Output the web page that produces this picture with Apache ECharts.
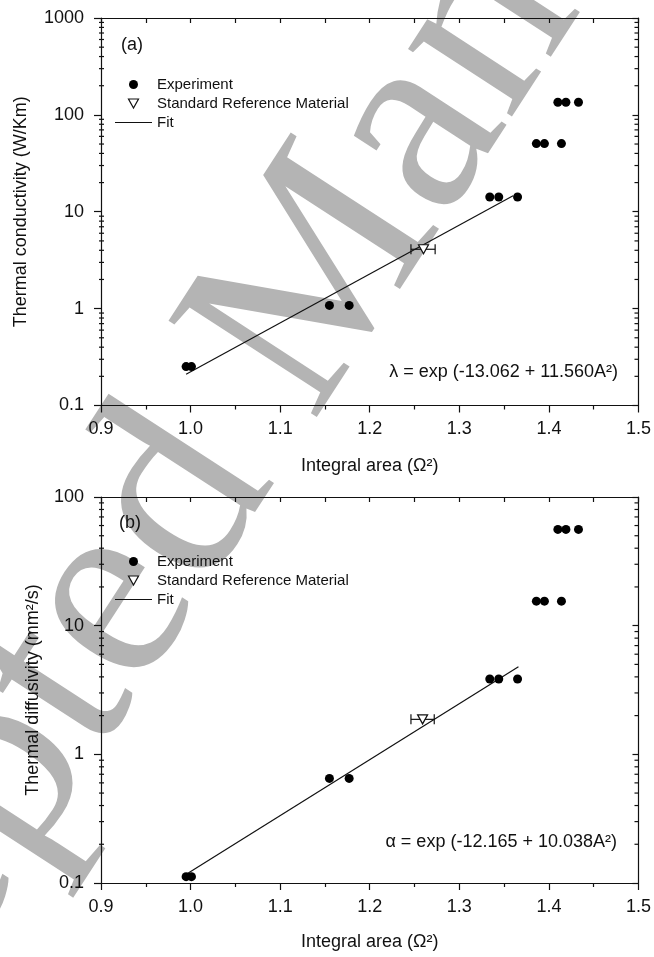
<!DOCTYPE html>
<html>
<head>
<meta charset="utf-8">
<script src="https://cdn.jsdelivr.net/npm/echarts@6/dist/echarts.min.js"></script>
<style>html,body{margin:0;padding:0;background:#fff;}#c{width:654px;height:957px;}</style>
</head>
<body>
<div id="c"></div>
<script>
// ---------- data ----------
const seriesNames = ['Experiment', 'Standard Reference Material', 'Fit'];
const xTickLabels = ['0.9', '1.0', '1.1', '1.2', '1.3', '1.4', '1.5'];
const yTickLabelsA = ['0.1', '1', '10', '100', '1000'];
const yTickLabelsB = ['0.1', '1', '10', '100'];

// (a) thermal conductivity
const expAx = [0.995, 1.001, 1.155, 1.177, 1.334, 1.344, 1.365, 1.386, 1.395, 1.414, 1.410, 1.419, 1.433];
const expAy = [0.252, 0.252, 1.08, 1.08, 14.2, 14.2, 14.2, 50.5, 50.5, 50.5, 135, 135, 135];
const srmAx = [1.26];
const srmAy = [4.1];
const srmAxLow = [1.246];
const srmAxHigh = [1.273];
const fitAx = [0.995, 1.36];
const fitAy = [0.21, 14.6];

// (b) thermal diffusivity
const expBx = [0.995, 1.001, 1.155, 1.177, 1.334, 1.344, 1.365, 1.386, 1.395, 1.414, 1.410, 1.419, 1.433];
const expBy = [0.112, 0.112, 0.65, 0.65, 3.85, 3.85, 3.85, 15.5, 15.5, 15.5, 56, 56, 56];
const srmBx = [1.259];
const srmBy = [1.87];
const srmBxLow = [1.246];
const srmBxHigh = [1.272];
const fitBx = [0.997, 1.366];
const fitBy = [0.119, 4.8];

// minor log ticks
const minorA = [0.2,0.3,0.4,0.5,0.6,0.7,0.8,0.9,2,3,4,5,6,7,8,9,20,30,40,50,60,70,80,90,200,300,400,500,600,700,800,900];
const minorB = [0.2,0.3,0.4,0.5,0.6,0.7,0.8,0.9,2,3,4,5,6,7,8,9,20,30,40,50,60,70,80,90];

const eqA = 'λ = exp (-13.062 + 11.560A²)';
const eqB = 'α = exp (-12.165 + 10.038A²)';
const panelA = '(a)', panelB = '(b)';
const xTitle = 'Integral area (Ω²)';
const yTitleA = 'Thermal conductivity (W/Km)';
const yTitleB = 'Thermal diffusivity (mm²/s)';
const watermark = 'Accepted Manuscript';

// ---------- helpers ----------
const FONT = 'Liberation Sans, Arial, sans-serif';
const INK = '#111';
const zip = (xs, ys) => xs.map((x, i) => [x, ys[i]]);

function xAxes(grid, bottomName, gap) {
  return [
    {
      gridIndex: grid, type: 'value', position: 'bottom', min: 0.9, max: 1.5, interval: 0.1,
      name: bottomName, nameLocation: 'middle', nameGap: gap,
      nameTextStyle: { fontFamily: FONT, fontSize: 18, color: INK },
      axisLine: { show: true, onZero: false, lineStyle: { color: INK, width: 1.2 } },
      axisTick: { show: true, inside: false, length: 7, lineStyle: { color: INK, width: 1.2 } },
      minorTick: { show: true, splitNumber: 2, length: 4, lineStyle: { color: INK, width: 1.2 } },
      axisLabel: { fontFamily: FONT, fontSize: 18, color: INK, margin: 15,
        formatter: v => xTickLabels[Math.round((v - 0.9) * 10)] },
      splitLine: { show: false }
    },
    {
      gridIndex: grid, type: 'value', position: 'top', min: 0.9, max: 1.5, interval: 0.1,
      axisLine: { show: true, onZero: false, lineStyle: { color: INK, width: 1.2 } },
      axisTick: { show: true, inside: true, length: 5, lineStyle: { color: INK, width: 1.2 } },
      minorTick: { show: true, splitNumber: 2, length: 5, lineStyle: { color: INK, width: 1.2 } },
      axisLabel: { show: false }, splitLine: { show: false }
    }
  ];
}
function yAxes(grid, max, labels, name, gap) {
  return [
    {
      gridIndex: grid, type: 'log', logBase: 10, min: 0.1, max: max, position: 'left',
      name: name, nameLocation: 'middle', nameGap: gap,
      nameTextStyle: { fontFamily: FONT, fontSize: 18, color: INK },
      axisLine: { show: true, onZero: false, lineStyle: { color: INK, width: 1.2 } },
      axisTick: { show: true, inside: false, length: 7, lineStyle: { color: INK, width: 1.2 } },
      axisLabel: { fontFamily: FONT, fontSize: 18, color: INK, margin: 17,
        formatter: v => labels[Math.round(Math.log10(v)) + 1] },
      splitLine: { show: false }
    },
    {
      gridIndex: grid, type: 'log', logBase: 10, min: 0.1, max: max, position: 'right',
      axisLine: { show: true, onZero: false, lineStyle: { color: INK, width: 1.2 } },
      axisTick: { show: true, inside: true, length: 6, lineStyle: { color: INK, width: 1.2 } },
      axisLabel: { show: false }, splitLine: { show: false }
    }
  ];
}
function minorTickSeries(xi, yi, vals) {
  return {
    type: 'custom', xAxisIndex: xi, yAxisIndex: yi, silent: true, clip: false,
    data: vals.map(v => [0.9, v]),
    renderItem: (params, api) => {
      const l = api.coord([0.9, api.value(1)]);
      const r = api.coord([1.5, api.value(1)]);
      const st = { stroke: INK, lineWidth: 1.2 };
      return { type: 'group', children: [
        { type: 'line', shape: { x1: l[0] - 2, y1: l[1], x2: l[0] + 3, y2: l[1] }, style: st },
        { type: 'line', shape: { x1: r[0] - 4, y1: r[1], x2: r[0], y2: r[1] }, style: st }
      ]};
    }
  };
}
function errorSeries(xi, yi, xs, ys, lo, hi) {
  return {
    type: 'custom', xAxisIndex: xi, yAxisIndex: yi, silent: true, z: 3,
    data: xs.map((x, i) => [x, ys[i], lo[i], hi[i]]),
    renderItem: (params, api) => {
      const a = api.coord([api.value(2), api.value(1)]);
      const b = api.coord([api.value(3), api.value(1)]);
      const st = { stroke: INK, lineWidth: 1.2 };
      return { type: 'group', children: [
        { type: 'line', shape: { x1: a[0], y1: a[1], x2: b[0], y2: b[1] }, style: st },
        { type: 'line', shape: { x1: a[0], y1: a[1] - 5, x2: a[0], y2: a[1] + 5 }, style: st },
        { type: 'line', shape: { x1: b[0], y1: b[1] - 5, x2: b[0], y2: b[1] + 5 }, style: st }
      ]};
    }
  };
}
const TRI_DOWN = 'path://M0,0 L10,0 L5,9 Z';
function dataSeries(xi, yi, ex, ey, sx, sy, fx, fy) {
  return [
    { name: seriesNames[2], type: 'line', xAxisIndex: xi, yAxisIndex: yi, data: zip(fx, fy),
      symbol: 'none', showSymbol: false, lineStyle: { color: INK, width: 1.2 }, itemStyle: { color: INK }, z: 2 },
    { name: seriesNames[0], type: 'scatter', xAxisIndex: xi, yAxisIndex: yi, data: zip(ex, ey),
      symbol: 'circle', symbolSize: 9, itemStyle: { color: '#000', opacity: 1 }, z: 4 },
    { name: seriesNames[1], type: 'scatter', xAxisIndex: xi, yAxisIndex: yi, data: zip(sx, sy),
      symbol: TRI_DOWN, symbolSize: [10, 9],
      itemStyle: { color: '#fff', borderColor: INK, borderWidth: 1.2, opacity: 1 }, z: 5 }
  ];
}
function legend(top) {
  return {
    orient: 'vertical', left: 115, top: top, padding: 0, itemGap: 4,
    itemWidth: 37, itemHeight: 9, selectedMode: false, symbolKeepAspect: true,
    textStyle: { fontFamily: FONT, fontSize: 15, color: INK },
    data: [
      { name: seriesNames[0], icon: 'circle', itemStyle: { color: '#000', borderWidth: 0 } },
      { name: seriesNames[1], icon: TRI_DOWN,
        itemStyle: { color: '#fff', borderColor: INK, borderWidth: 1.2 } },
      { name: seriesNames[2], icon: 'path://M0,0 L37,0 L37,1.2 L0,1.2 Z',
        itemStyle: { color: INK, borderWidth: 0 } }
    ]
  };
}

const chart = echarts.init(document.getElementById('c'), null, { renderer: 'canvas' });
chart.setOption({
  backgroundColor: '#fff',
  animation: false,
  grid: [
    { left: 101, top: 18, width: 539, height: 387.5 },
    { left: 101, top: 497, width: 539, height: 386 }
  ],
  xAxis: [...xAxes(0, xTitle, 52), ...xAxes(1, xTitle, 50)],
  yAxis: [...yAxes(0, 1000, yTickLabelsA, yTitleA, 71), ...yAxes(1, 100, yTickLabelsB, yTitleB, 59)],
  legend: [legend(77), legend(554)],
  graphic: [
    { type: 'text', z: -10, silent: true, x: 292, y: 325, rotation: 57 * Math.PI / 180,
      style: { text: watermark, fill: '#b4b4b4', font: '270px "Liberation Serif", serif',
        align: 'center', verticalAlign: 'middle' } },
    { type: 'text', x: 121, y: 45, style: { text: panelA, fill: INK, font: '18px ' + FONT, verticalAlign: 'middle' } },
    { type: 'text', x: 119, y: 523, style: { text: panelB, fill: INK, font: '18px ' + FONT, verticalAlign: 'middle' } },
    { type: 'text', x: 618, y: 372, style: { text: eqA, fill: INK, font: '18px ' + FONT, align: 'right', verticalAlign: 'middle' } },
    { type: 'text', x: 617, y: 842, style: { text: eqB, fill: INK, font: '18px ' + FONT, align: 'right', verticalAlign: 'middle' } }
  ],
  series: [
    minorTickSeries(0, 0, minorA),
    minorTickSeries(2, 2, minorB),
    errorSeries(0, 0, srmAx, srmAy, srmAxLow, srmAxHigh),
    errorSeries(2, 2, srmBx, srmBy, srmBxLow, srmBxHigh),
    ...dataSeries(0, 0, expAx, expAy, srmAx, srmAy, fitAx, fitAy),
    ...dataSeries(2, 2, expBx, expBy, srmBx, srmBy, fitBx, fitBy)
  ]
});
</script>
</body>
</html>
